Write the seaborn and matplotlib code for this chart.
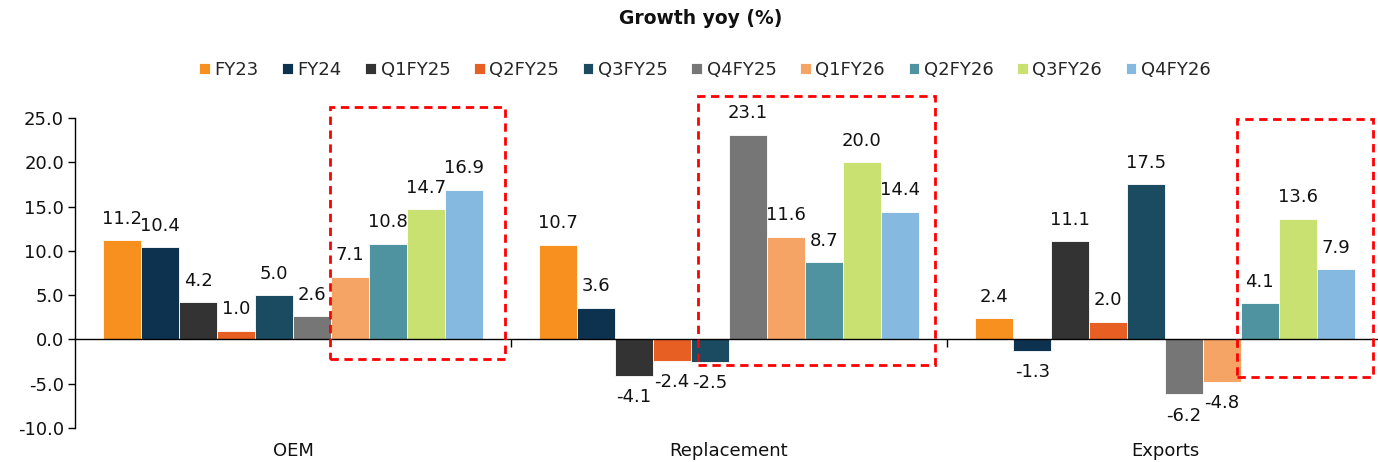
import matplotlib
matplotlib.use("Agg")
import matplotlib.pyplot as plt
import seaborn as sns
import pandas as pd
from matplotlib.patches import Rectangle
from matplotlib.ticker import FixedLocator

categories = ["OEM", "Replacement", "Exports"]
periods = ["FY23", "FY24", "Q1FY25", "Q2FY25", "Q3FY25", "Q4FY25",
           "Q1FY26", "Q2FY26", "Q3FY26", "Q4FY26"]
oem = [11.2, 10.4, 4.2, 1.0, 5.0, 2.6, 7.1, 10.8, 14.7, 16.9]
replacement = [10.7, 3.6, -4.1, -2.4, -2.5, 23.1, 11.6, 8.7, 20.0, 14.4]
exports = [2.4, -1.3, 11.1, 2.0, 17.5, -6.2, -4.8, 4.1, 13.6, 7.9]
colors = ["#F7901E", "#0D3250", "#333333", "#E85F24", "#1A4B61",
          "#767676", "#F6A366", "#4F93A0", "#C8E170", "#85B9DF"]
yticks = [-10, -5, 0, 5, 10, 15, 20, 25]

rows = []
for cat, vals in zip(categories, [oem, replacement, exports]):
    for p, v in zip(periods, vals):
        rows.append({"Category": cat, "Period": p, "Value": v})
df = pd.DataFrame(rows)

sns.set_style("white")
plt.rcParams["font.family"] = ["DejaVu Sans"]
FS = 13

fig = plt.figure(figsize=(13.78, 4.62), dpi=100)
W, H = 1378, 462
ax = fig.add_axes([75 / W, 34 / H, 1308 / W, 310 / H])

sns.barplot(data=df, x="Category", y="Value", hue="Period", order=categories,
            hue_order=periods, palette=colors, width=0.87, ax=ax,
            edgecolor="white", linewidth=0.6, saturation=1, errorbar=None,
            legend=True)

for cont in ax.containers:
    ax.bar_label(cont, fmt="%.1f", padding=9, fontsize=FS, color="#111111")

ax.set_xlim(-0.5, 2.5)
ax.set_ylim(-10, 25)
ax.set_yticks(yticks)
ax.set_yticklabels([f"{t:.1f}" for t in yticks], fontsize=FS, color="#111111")
ax.tick_params(axis="y", direction="out", length=5, width=1, color="black",
               left=True, pad=3)
ax.set_xlabel("")
ax.set_ylabel("")

for s in ["top", "right"]:
    ax.spines[s].set_visible(False)
ax.spines["left"].set_color("black")
ax.spines["left"].set_linewidth(1)
ax.spines["bottom"].set_position(("data", 0))
ax.spines["bottom"].set_color("black")
ax.spines["bottom"].set_linewidth(1)

ax.tick_params(axis="x", which="major", length=0, pad=74, labelsize=FS,
               labelcolor="#111111")
ax.xaxis.set_minor_locator(FixedLocator([0.5, 1.5]))
ax.tick_params(axis="x", which="minor", direction="out", length=6, width=1,
               color="black", bottom=True)

# legend
handles, labels = ax.get_legend_handles_labels()
ax.get_legend().remove()
fig.legend(handles, labels, loc="center", bbox_to_anchor=(705 / W, 1 - 70 / H),
           ncol=10, frameon=False, fontsize=FS, handlelength=0.6,
           handleheight=0.6, handletextpad=0.25, columnspacing=1.3)

fig.text(701 / W, 1 - 18 / H, "Growth yoy (%)", ha="center", va="center",
         fontsize=13.5, fontweight="bold", color="#111111")

# red dashed highlight boxes (figure pixel coordinates)
boxes = [(330, 107, 505, 359), (698, 96, 935, 365), (1237, 119, 1373, 377)]
for x0, y0, x1, y1 in boxes:
    fig.add_artist(Rectangle((x0 / W, 1 - y1 / H), (x1 - x0) / W, (y1 - y0) / H,
                             transform=fig.transFigure, fill=False,
                             edgecolor="#FF0000", linewidth=2,
                             linestyle=(0, (3, 2)), zorder=10))

fig.savefig("out.png", dpi=100)
